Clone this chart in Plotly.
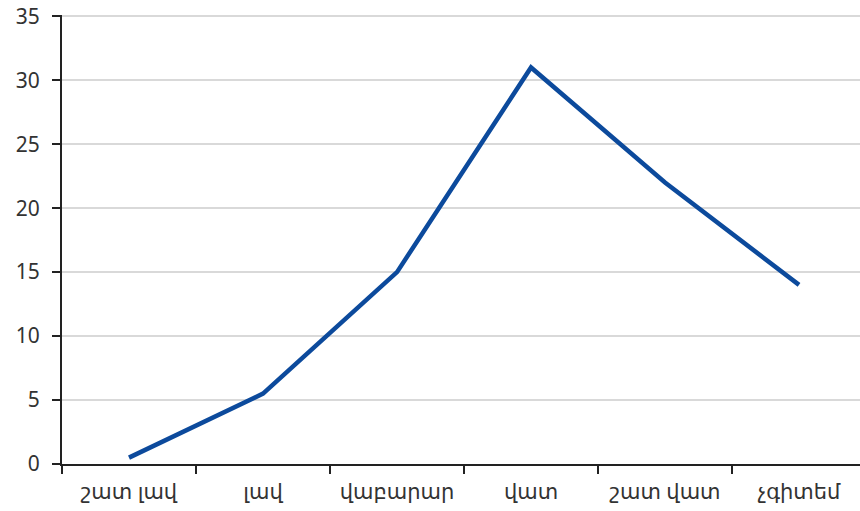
import plotly.graph_objects as go

categories = ["շատ լավ", "լավ", "վաբարար", "վատ", "շատ վատ", "չգիտեմ"]
values = [0.5, 5.5, 15, 31, 22, 14]
y_ticks = [0, 5, 10, 15, 20, 25, 30, 35]

fig = go.Figure()
fig.add_trace(go.Scatter(
    x=categories, y=values, mode="lines",
    line=dict(color="#0c4a9c", width=4.5),
    hoverinfo="skip", showlegend=False,
))

fig.update_layout(
    width=860, height=511,
    margin=dict(l=62, r=0, t=15, b=47, autoexpand=False),
    paper_bgcolor="white", plot_bgcolor="white",
    font=dict(family="Noto Sans, DejaVu Sans, sans-serif", size=21, color="#333333"),
    xaxis=dict(
        type="category", range=[-0.5, 5.455], automargin=False,
        tickson="boundaries", ticks="outside", ticklen=8, tickwidth=1.5, tickcolor="#222222",
        showline=True, linecolor="#222222", linewidth=2,
        showgrid=False, zeroline=False,
        ticklabelstandoff=8, ticklabeloverflow="allow",
        tickfont=dict(size=21, color="#333333"),
    ),
    yaxis=dict(
        range=[0, 35.1], tickvals=y_ticks, automargin=False,
        ticks="outside", ticklen=8, tickwidth=1.5, tickcolor="#222222",
        showline=True, linecolor="#222222", linewidth=2,
        showgrid=True, gridcolor="#d9d9d9", gridwidth=1.5,
        zeroline=False,
        ticklabelstandoff=8, ticklabeloverflow="allow",
        tickfont=dict(size=21, color="#333333"),
    ),
)

fig.write_html("out.html", config={"displayModeBar": False},
               post_script="document.body.style.margin='0';")
